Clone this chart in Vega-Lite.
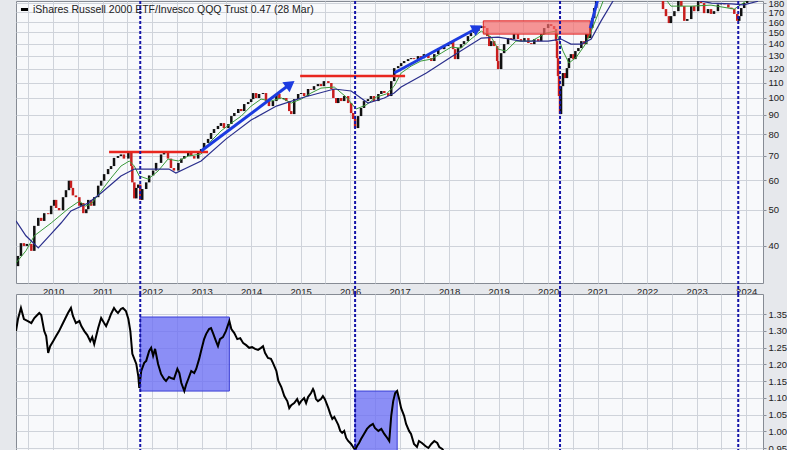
{
  "$schema": "https://vega.github.io/schema/vega-lite/v6.json",
  "background": "#e6e8ec",
  "padding": {"left": 15, "top": -3, "right": 0, "bottom": 0},
  "bounds": "flush",
  "spacing": 11,
  "config": {
    "view": {"fill": "#f8f9fb", "stroke": "#868b94", "strokeWidth": 1},
    "axis": {"labelFont": "Liberation Sans", "labelFontSize": 9.5, "labelColor": "#222222", "title": null, "gridColor": "#cfd3da", "gridWidth": 1, "domain": false, "tickColor": "#8a8f99"}
  },
  "datasets": {
    "price": [
      {"t":2009.25,"c":35.3},{"t":2009.29,"c":37.6},{"t":2009.35,"c":40.7},{"t":2009.41,"c":40.0},{"t":2009.47,"c":40.5},{"t":2009.56,"c":38.8},{"t":2009.62,"c":45.3},{"t":2009.70,"c":47.6},{"t":2009.76,"c":46.7},{"t":2009.82,"c":49.0},{"t":2009.90,"c":48.7},{"t":2009.96,"c":51.3},
      {"t":2010.02,"c":53.2},{"t":2010.06,"c":50.6},{"t":2010.12,"c":49.9},{"t":2010.20,"c":54.1},{"t":2010.26,"c":56.5},{"t":2010.32,"c":59.9},{"t":2010.36,"c":57.3},{"t":2010.40,"c":54.7},{"t":2010.46,"c":54.1},{"t":2010.53,"c":51.3},{"t":2010.57,"c":52.2},{"t":2010.61,"c":49.0},{"t":2010.67,"c":50.2},{"t":2010.71,"c":53.2},{"t":2010.77,"c":51.3},{"t":2010.83,"c":54.1},{"t":2010.91,"c":58.1},{"t":2010.97,"c":59.9},
      {"t":2011.03,"c":62.4},{"t":2011.11,"c":64.4},{"t":2011.17,"c":65.6},{"t":2011.23,"c":69.0},{"t":2011.31,"c":69.8},{"t":2011.37,"c":70.5},{"t":2011.43,"c":68.7},{"t":2011.52,"c":71.2},{"t":2011.58,"c":65.6},{"t":2011.60,"c":59.3},{"t":2011.64,"c":53.7},{"t":2011.68,"c":57.3},{"t":2011.72,"c":58.5},{"t":2011.76,"c":53.2},{"t":2011.80,"c":56.9},{"t":2011.88,"c":59.3},{"t":2011.94,"c":61.9},
      {"t":2012.02,"c":63.8},{"t":2012.08,"c":66.9},{"t":2012.18,"c":70.5},{"t":2012.24,"c":71.2},{"t":2012.32,"c":68.7},{"t":2012.38,"c":64.8},{"t":2012.44,"c":63.8},{"t":2012.53,"c":66.9},{"t":2012.59,"c":68.7},{"t":2012.65,"c":69.8},{"t":2012.73,"c":71.2},{"t":2012.79,"c":69.8},{"t":2012.85,"c":68.7},{"t":2012.93,"c":71.2},{"t":2012.99,"c":72.9},
      {"t":2013.05,"c":75.7},{"t":2013.13,"c":77.6},{"t":2013.19,"c":80.5},{"t":2013.25,"c":82.5},{"t":2013.33,"c":84.1},{"t":2013.39,"c":85.6},{"t":2013.45,"c":83.0},{"t":2013.54,"c":85.1},{"t":2013.60,"c":89.4},{"t":2013.66,"c":91.1},{"t":2013.74,"c":93.4},{"t":2013.80,"c":92.2},{"t":2013.86,"c":96.3},{"t":2013.94,"c":97.5},
      {"t":2014.00,"c":99.3},{"t":2014.04,"c":103.1},{"t":2014.10,"c":100.0},{"t":2014.16,"c":102.5},{"t":2014.24,"c":103.1},{"t":2014.30,"c":98.1},{"t":2014.36,"c":95.1},{"t":2014.44,"c":98.1},{"t":2014.51,"c":102.5},{"t":2014.57,"c":99.3},{"t":2014.65,"c":100.0},{"t":2014.71,"c":98.1},{"t":2014.77,"c":92.2},{"t":2014.81,"c":90.5},{"t":2014.87,"c":99.3},{"t":2014.95,"c":102.5},
      {"t":2015.01,"c":103.1},{"t":2015.07,"c":101.2},{"t":2015.15,"c":105.7},{"t":2015.21,"c":105.2},{"t":2015.27,"c":107.6},{"t":2015.35,"c":109.0},{"t":2015.41,"c":107.6},{"t":2015.47,"c":111.0},{"t":2015.56,"c":109.7},{"t":2015.62,"c":105.7},{"t":2015.66,"c":100.0},{"t":2015.72,"c":96.9},{"t":2015.76,"c":100.0},{"t":2015.82,"c":98.1},{"t":2015.88,"c":101.2},{"t":2015.96,"c":96.9},
      {"t":2016.02,"c":91.1},{"t":2016.06,"c":87.8},{"t":2016.10,"c":83.0},{"t":2016.16,"c":89.4},{"t":2016.22,"c":94.0},{"t":2016.28,"c":98.1},{"t":2016.36,"c":99.3},{"t":2016.42,"c":101.2},{"t":2016.48,"c":98.1},{"t":2016.57,"c":102.5},{"t":2016.63,"c":104.4},{"t":2016.69,"c":103.1},{"t":2016.77,"c":101.2},{"t":2016.83,"c":111.0},{"t":2016.89,"c":120.3},{"t":2016.97,"c":121.8},
      {"t":2017.03,"c":124.1},{"t":2017.09,"c":125.7},{"t":2017.17,"c":127.2},{"t":2017.23,"c":128.0},{"t":2017.29,"c":127.2},{"t":2017.37,"c":129.6},{"t":2017.43,"c":128.0},{"t":2017.49,"c":131.2},{"t":2017.58,"c":128.0},{"t":2017.64,"c":125.7},{"t":2017.70,"c":131.2},{"t":2017.78,"c":136.2},{"t":2017.84,"c":135.3},{"t":2017.90,"c":137.9},{"t":2017.98,"c":139.6},
      {"t":2018.04,"c":142.2},{"t":2018.08,"c":135.3},{"t":2018.12,"c":127.2},{"t":2018.18,"c":136.2},{"t":2018.24,"c":139.6},{"t":2018.30,"c":142.2},{"t":2018.38,"c":146.7},{"t":2018.44,"c":149.5},{"t":2018.51,"c":151.3},{"t":2018.59,"c":154.2},{"t":2018.65,"c":156.1},{"t":2018.71,"c":154.2},{"t":2018.77,"c":146.7},{"t":2018.81,"c":137.9},{"t":2018.85,"c":142.2},{"t":2018.91,"c":137.9},{"t":2018.97,"c":125.7},{"t":2018.99,"c":119.6},
      {"t":2019.05,"c":132.0},{"t":2019.11,"c":139.6},{"t":2019.19,"c":144.9},{"t":2019.25,"c":144.0},{"t":2019.31,"c":148.5},{"t":2019.39,"c":144.0},{"t":2019.45,"c":142.2},{"t":2019.52,"c":144.9},{"t":2019.60,"c":140.5},{"t":2019.66,"c":139.6},{"t":2019.72,"c":144.0},{"t":2019.80,"c":142.2},{"t":2019.86,"c":148.5},{"t":2019.92,"c":154.2},
      {"t":2020.00,"c":158.0},{"t":2020.06,"c":156.1},{"t":2020.12,"c":153.2},{"t":2020.16,"c":142.2},{"t":2020.18,"c":128.0},{"t":2020.20,"c":114.5},{"t":2020.22,"c":101.2},{"t":2020.24,"c":90.5},{"t":2020.26,"c":107.6},{"t":2020.30,"c":116.7},{"t":2020.34,"c":113.1},{"t":2020.38,"c":120.3},{"t":2020.42,"c":128.0},{"t":2020.46,"c":131.2},{"t":2020.51,"c":127.2},{"t":2020.55,"c":133.7},{"t":2020.61,"c":136.2},{"t":2020.67,"c":142.2},{"t":2020.73,"c":139.6},{"t":2020.77,"c":148.5},{"t":2020.81,"c":144.9},{"t":2020.85,"c":154.2},{"t":2020.89,"c":164.0},{"t":2020.93,"c":174.5},{"t":2020.97,"c":182.3},
      {"t":2021.05,"c":195},{"t":2021.15,"c":212},{"t":2021.25,"c":222},{"t":2021.35,"c":218},{"t":2021.45,"c":225},{"t":2021.55,"c":215},{"t":2021.65,"c":222},{"t":2021.75,"c":218},{"t":2021.85,"c":235},{"t":2021.95,"c":222},
      {"t":2022.02,"c":210},{"t":2022.10,"c":198},{"t":2022.18,"c":188},{"t":2022.28,"c":182.3},{"t":2022.32,"c":173.4},{"t":2022.38,"c":166.0},{"t":2022.44,"c":159.0},{"t":2022.48,"c":166.0},{"t":2022.55,"c":171.2},{"t":2022.63,"c":186},{"t":2022.69,"c":176.6},{"t":2022.75,"c":161.2},{"t":2022.81,"c":163.0},{"t":2022.89,"c":176.6},{"t":2022.95,"c":171.2},
      {"t":2023.03,"c":182.3},{"t":2023.09,"c":180.0},{"t":2023.15,"c":169.1},{"t":2023.23,"c":173.4},{"t":2023.29,"c":168.3},{"t":2023.35,"c":171.2},{"t":2023.43,"c":178.5},{"t":2023.49,"c":180.0},{"t":2023.56,"c":178.5},{"t":2023.64,"c":175.0},{"t":2023.70,"c":173.4},{"t":2023.76,"c":168.3},{"t":2023.82,"c":161.2},{"t":2023.86,"c":166.0},{"t":2023.90,"c":174.5},{"t":2023.96,"c":180.0},
      {"t":2024.02,"c":191},{"t":2024.10,"c":193},{"t":2024.20,"c":198},{"t":2024.24,"c":199}
    ],
    "ma50": [
      {"t":2009.25,"v":36.0},{"t":2009.45,"v":38.8},{"t":2009.62,"v":42.6},{"t":2009.96,"v":46.1},{"t":2010.30,"v":50.3},{"t":2010.53,"v":52.8},{"t":2010.65,"v":51.2},{"t":2010.77,"v":51.9},{"t":2010.97,"v":56.2},{"t":2011.17,"v":60.9},{"t":2011.37,"v":65.6},{"t":2011.54,"v":67.7},{"t":2011.64,"v":65.6},{"t":2011.74,"v":61.7},{"t":2011.92,"v":60.5},{"t":2012.12,"v":63.6},{"t":2012.32,"v":68.5},{"t":2012.53,"v":67.7},{"t":2012.73,"v":69.8},{"t":2012.99,"v":70.7},{"t":2013.19,"v":76.6},{"t":2013.39,"v":81.5},{"t":2013.60,"v":85.6},{"t":2013.80,"v":89.4},{"t":2014.00,"v":95.1},{"t":2014.20,"v":99.3},{"t":2014.40,"v":98.1},{"t":2014.61,"v":100.0},{"t":2014.81,"v":96.9},{"t":2015.01,"v":99.3},{"t":2015.21,"v":103.1},{"t":2015.41,"v":106.3},{"t":2015.68,"v":107.0},{"t":2015.92,"v":100.6},{"t":2016.12,"v":93.4},{"t":2016.32,"v":95.7},{"t":2016.53,"v":100.6},{"t":2016.73,"v":102.5},{"t":2016.89,"v":107.6},{"t":2017.03,"v":116.7},{"t":2017.23,"v":121.8},{"t":2017.43,"v":125.7},{"t":2017.64,"v":127.2},{"t":2017.84,"v":132.0},{"t":2018.04,"v":137.0},{"t":2018.24,"v":136.2},{"t":2018.44,"v":144.0},{"t":2018.65,"v":151.3},{"t":2018.85,"v":145.8},{"t":2018.99,"v":135.3},{"t":2019.15,"v":133.7},{"t":2019.35,"v":142.2},{"t":2019.66,"v":142.2},{"t":2019.96,"v":149.5},{"t":2020.16,"v":151.3},{"t":2020.30,"v":133.7},{"t":2020.42,"v":124.1},{"t":2020.57,"v":128.8},{"t":2020.77,"v":140.5},{"t":2020.87,"v":151.3},{"t":2021.03,"v":171.2},{"t":2021.19,"v":193.8},{"t":2021.5,"v":215},{"t":2021.9,"v":220},{"t":2022.08,"v":206},{"t":2022.3,"v":190},{"t":2022.48,"v":176.6},{"t":2022.89,"v":176.6},{"t":2023.29,"v":177.7},{"t":2023.76,"v":173.4},{"t":2024.00,"v":182.3},{"t":2024.24,"v":199}
    ],
    "ma200": [
      {"t":2009.25,"v":46.7},{"t":2009.45,"v":42.6},{"t":2009.70,"v":39.5},{"t":2009.96,"v":43.1},{"t":2010.16,"v":46.1},{"t":2010.36,"v":49.7},{"t":2010.71,"v":52.2},{"t":2010.97,"v":55.5},{"t":2011.37,"v":61.7},{"t":2011.64,"v":64.4},{"t":2011.78,"v":64.4},{"t":2012.34,"v":64.4},{"t":2012.48,"v":62.8},{"t":2012.99,"v":67.7},{"t":2013.49,"v":77.5},{"t":2014.00,"v":87.2},{"t":2014.51,"v":95.1},{"t":2015.01,"v":100.0},{"t":2015.68,"v":105.7},{"t":2016.02,"v":104.4},{"t":2016.36,"v":96.9},{"t":2016.69,"v":100.0},{"t":2016.89,"v":103.1},{"t":2017.03,"v":107.0},{"t":2017.54,"v":116.7},{"t":2018.04,"v":128.8},{"t":2018.65,"v":144.9},{"t":2018.99,"v":145.8},{"t":2019.45,"v":142.2},{"t":2020.00,"v":142.2},{"t":2020.26,"v":144.0},{"t":2020.46,"v":139.6},{"t":2020.67,"v":139.6},{"t":2020.87,"v":144.0},{"t":2021.07,"v":161.2},{"t":2021.31,"v":182.3},{"t":2021.8,"v":210},{"t":2022.2,"v":210},{"t":2022.5,"v":195},{"t":2022.9,"v":184},{"t":2023.3,"v":180},{"t":2023.7,"v":179},{"t":2023.95,"v":178},{"t":2024.24,"v":182}
    ],
    "ratio": [
      {"t":2009.25,"r":1.299},{"t":2009.29,"r":1.335},{"t":2009.35,"r":1.368},{"t":2009.41,"r":1.335},{"t":2009.49,"r":1.329},{"t":2009.56,"r":1.323},{"t":2009.62,"r":1.338},{"t":2009.66,"r":1.344},{"t":2009.72,"r":1.353},{"t":2009.76,"r":1.347},{"t":2009.82,"r":1.299},{"t":2009.86,"r":1.284},{"t":2009.90,"r":1.234},{"t":2009.94,"r":1.254},
      {"t":2010.00,"r":1.269},{"t":2010.06,"r":1.284},{"t":2010.12,"r":1.299},{"t":2010.18,"r":1.317},{"t":2010.24,"r":1.335},{"t":2010.30,"r":1.353},{"t":2010.36,"r":1.368},{"t":2010.40,"r":1.344},{"t":2010.46,"r":1.323},{"t":2010.53,"r":1.329},{"t":2010.57,"r":1.314},{"t":2010.63,"r":1.299},{"t":2010.69,"r":1.287},{"t":2010.75,"r":1.269},{"t":2010.79,"r":1.281},{"t":2010.83,"r":1.260},{"t":2010.87,"r":1.284},{"t":2010.91,"r":1.308},{"t":2010.97,"r":1.338},
      {"t":2011.03,"r":1.323},{"t":2011.07,"r":1.314},{"t":2011.13,"r":1.335},{"t":2011.17,"r":1.350},{"t":2011.23,"r":1.368},{"t":2011.27,"r":1.359},{"t":2011.31,"r":1.353},{"t":2011.37,"r":1.365},{"t":2011.41,"r":1.368},{"t":2011.47,"r":1.359},{"t":2011.52,"r":1.335},{"t":2011.56,"r":1.299},{"t":2011.60,"r":1.231},{"t":2011.64,"r":1.216},{"t":2011.68,"r":1.201},{"t":2011.72,"r":1.165},{"t":2011.74,"r":1.129},{"t":2011.78,"r":1.180},{"t":2011.84,"r":1.204},{"t":2011.88,"r":1.210},{"t":2011.94,"r":1.240},{"t":2011.98,"r":1.249},
      {"t":2012.02,"r":1.225},{"t":2012.06,"r":1.246},{"t":2012.12,"r":1.201},{"t":2012.18,"r":1.171},{"t":2012.24,"r":1.156},{"t":2012.28,"r":1.150},{"t":2012.34,"r":1.162},{"t":2012.38,"r":1.159},{"t":2012.44,"r":1.156},{"t":2012.51,"r":1.186},{"t":2012.55,"r":1.174},{"t":2012.59,"r":1.144},{"t":2012.65,"r":1.120},{"t":2012.69,"r":1.141},{"t":2012.73,"r":1.156},{"t":2012.79,"r":1.180},{"t":2012.85,"r":1.174},{"t":2012.89,"r":1.186},{"t":2012.95,"r":1.216},{"t":2012.99,"r":1.240},
      {"t":2013.05,"r":1.275},{"t":2013.09,"r":1.290},{"t":2013.15,"r":1.305},{"t":2013.19,"r":1.308},{"t":2013.23,"r":1.293},{"t":2013.29,"r":1.269},{"t":2013.33,"r":1.254},{"t":2013.37,"r":1.275},{"t":2013.43,"r":1.281},{"t":2013.49,"r":1.299},{"t":2013.56,"r":1.329},{"t":2013.60,"r":1.305},{"t":2013.66,"r":1.293},{"t":2013.72,"r":1.275},{"t":2013.78,"r":1.278},{"t":2013.84,"r":1.263},{"t":2013.90,"r":1.257},{"t":2013.96,"r":1.249},
      {"t":2014.02,"r":1.251},{"t":2014.08,"r":1.246},{"t":2014.14,"r":1.243},{"t":2014.20,"r":1.249},{"t":2014.24,"r":1.254},{"t":2014.28,"r":1.234},{"t":2014.34,"r":1.219},{"t":2014.40,"r":1.216},{"t":2014.44,"r":1.204},{"t":2014.51,"r":1.180},{"t":2014.55,"r":1.150},{"t":2014.61,"r":1.132},{"t":2014.67,"r":1.105},{"t":2014.73,"r":1.090},{"t":2014.77,"r":1.069},{"t":2014.81,"r":1.078},{"t":2014.87,"r":1.084},{"t":2014.93,"r":1.096},{"t":2014.97,"r":1.081},
      {"t":2015.01,"r":1.090},{"t":2015.07,"r":1.099},{"t":2015.11,"r":1.084},{"t":2015.15,"r":1.102},{"t":2015.21,"r":1.114},{"t":2015.25,"r":1.126},{"t":2015.27,"r":1.120},{"t":2015.31,"r":1.096},{"t":2015.35,"r":1.090},{"t":2015.41,"r":1.096},{"t":2015.45,"r":1.105},{"t":2015.49,"r":1.096},{"t":2015.56,"r":1.069},{"t":2015.60,"r":1.051},{"t":2015.64,"r":1.037},{"t":2015.68,"r":1.043},{"t":2015.72,"r":1.031},{"t":2015.76,"r":1.019},{"t":2015.80,"r":1.001},{"t":2015.84,"r":0.995},{"t":2015.88,"r":1.001},{"t":2015.92,"r":0.980},{"t":2015.96,"r":0.971},
      {"t":2016.02,"r":0.962},{"t":2016.06,"r":0.953},{"t":2016.10,"r":0.944},{"t":2016.14,"r":0.956},{"t":2016.18,"r":0.965},{"t":2016.22,"r":0.977},{"t":2016.28,"r":0.992},{"t":2016.34,"r":1.007},{"t":2016.40,"r":1.016},{"t":2016.46,"r":1.022},{"t":2016.50,"r":1.010},{"t":2016.57,"r":1.001},{"t":2016.63,"r":1.007},{"t":2016.69,"r":0.992},{"t":2016.75,"r":0.980},{"t":2016.79,"r":0.971},{"t":2016.83,"r":1.046},{"t":2016.87,"r":1.090},{"t":2016.91,"r":1.114},{"t":2016.95,"r":1.120},{"t":2016.99,"r":1.096},
      {"t":2017.03,"r":1.069},{"t":2017.09,"r":1.046},{"t":2017.13,"r":1.022},{"t":2017.19,"r":1.001},{"t":2017.23,"r":0.992},{"t":2017.29,"r":0.962},{"t":2017.35,"r":0.953},{"t":2017.39,"r":0.971},{"t":2017.45,"r":0.965},{"t":2017.52,"r":0.956},{"t":2017.58,"r":0.950},{"t":2017.64,"r":0.962},{"t":2017.70,"r":0.971},{"t":2017.76,"r":0.965},{"t":2017.80,"r":0.953},{"t":2017.86,"r":0.947},{"t":2017.92,"r":0.935},{"t":2017.98,"r":0.917},
      {"t":2018.5,"r":0.90},{"t":2019.0,"r":0.78},{"t":2019.5,"r":0.72},{"t":2020.0,"r":0.66},{"t":2020.5,"r":0.55},{"t":2021.0,"r":0.58},{"t":2021.5,"r":0.60},{"t":2022.0,"r":0.58},{"t":2022.5,"r":0.58},{"t":2023.0,"r":0.55},{"t":2023.5,"r":0.52},{"t":2024.0,"r":0.50},{"t":2024.24,"r":0.47}
    ],
    "events": [{"t":2011.76},{"t":2016.10},{"t":2020.24},{"t":2023.84}]
  },
  "vconcat": [
    {
      "width": 747,
      "height": 282,
      "resolve": {"axis": {"x": "independent", "y": "independent"}},
      "layer": [
        {
          "data": {"name": "price"},
          "transform": [
            {"window": [{"op": "lag", "field": "c", "as": "o"}], "sort": [{"field": "t", "order": "ascending"}]},
            {"filter": "datum.o != null"}
          ],
          "mark": {"type": "rule", "strokeWidth": 2.5, "clip": true},
          "encoding": {
            "x": {"field": "t", "type": "quantitative",
              "scale": {"domain": [2009.25, 2024.34], "nice": false, "zero": false},
              "axis": {"values": [2009.5,2010,2010.5,2011,2011.5,2012,2012.5,2013,2013.5,2014,2014.5,2015,2015.5,2016,2016.5,2017,2017.5,2018,2018.5,2019,2019.5,2020,2020.5,2021,2021.5,2022,2022.5,2023,2023.5,2024],
                "labelExpr": "datum.value % 1 === 0 ? format(datum.value, 'd') : ''", "ticks": false, "grid": true, "labelPadding": 3, "labelFlush": false, "labelOverlap": false}},
            "y": {"field": "o", "type": "quantitative",
              "scale": {"type": "log", "domain": [31.8, 182.3], "nice": false},
              "axis": {"orient": "right", "values": [40,50,60,70,80,90,100,110,120,130,140,150,160,170,180], "format": "d", "tickSize": 3, "labelPadding": 2, "grid": true, "labelFlush": false, "labelOverlap": false}},
            "y2": {"field": "c"},
            "color": {"condition": {"test": "datum.c < datum.o", "value": "#c81e1e"}, "value": "#111111"}
          }
        },
        {
          "data": {"name": "ma50"},
          "mark": {"type": "line", "color": "#3a9a3a", "strokeWidth": 1, "clip": true},
          "encoding": {"x": {"field": "t", "type": "quantitative", "axis": null}, "y": {"field": "v", "type": "quantitative", "axis": null}}
        },
        {
          "data": {"name": "ma200"},
          "mark": {"type": "line", "color": "#2a2e8c", "strokeWidth": 1.2, "clip": true},
          "encoding": {"x": {"field": "t", "type": "quantitative", "axis": null}, "y": {"field": "v", "type": "quantitative", "axis": null}}
        },
        {
          "data": {"values": [{"t1": 2018.69, "t2": 2020.85, "v1": 148.5, "v2": 161.2}]},
          "mark": {"type": "rect", "fill": "#f46a6a", "fillOpacity": 0.7, "stroke": "#e22222", "strokeWidth": 1, "clip": true},
          "encoding": {"x": {"field": "t1", "type": "quantitative", "axis": null}, "x2": {"field": "t2"}, "y": {"field": "v1", "type": "quantitative", "axis": null}, "y2": {"field": "v2"}}
        },
        {
          "data": {"values": [{"t1": 2011.13, "t2": 2013.13, "v": 71.6}, {"t1": 2014.99, "t2": 2017.11, "v": 114.5}]},
          "mark": {"type": "rule", "color": "#e8261e", "strokeWidth": 2.5, "clip": true},
          "encoding": {"x": {"field": "t1", "type": "quantitative", "axis": null}, "x2": {"field": "t2"}, "y": {"field": "v", "type": "quantitative", "axis": null}}
        },
        {
          "data": {"values": [
            {"arrow": "a1", "t": 2012.99, "v": 72.0}, {"arrow": "a1", "t": 2014.79, "v": 109.0},
            {"arrow": "a2", "t": 2016.89, "v": 116.7}, {"arrow": "a2", "t": 2018.57, "v": 154.2},
            {"arrow": "a3", "t": 2020.85, "v": 154.2}, {"arrow": "a3", "t": 2021.03, "v": 190}
          ]},
          "mark": {"type": "line", "color": "#1c3be0", "strokeWidth": 3, "clip": true},
          "encoding": {"x": {"field": "t", "type": "quantitative", "axis": null}, "y": {"field": "v", "type": "quantitative", "axis": null}, "detail": {"field": "arrow"}}
        },
        {
          "data": {"values": [{"t": 2014.79, "v": 109.0}]},
          "mark": {"type": "point", "shape": "triangle-right", "filled": true, "color": "#1c3be0", "opacity": 1, "size": 150, "angle": 324},
          "encoding": {"x": {"field": "t", "type": "quantitative", "axis": null}, "y": {"field": "v", "type": "quantitative", "axis": null}}
        },
        {
          "data": {"values": [{"t": 2018.57, "v": 154.2}]},
          "mark": {"type": "point", "shape": "triangle-right", "filled": true, "color": "#1c3be0", "opacity": 1, "size": 150, "angle": 331},
          "encoding": {"x": {"field": "t", "type": "quantitative", "axis": null}, "y": {"field": "v", "type": "quantitative", "axis": null}}
        },
        {
          "data": {"name": "events"},
          "mark": {"type": "rule", "color": "#1414a8", "strokeWidth": 2, "strokeDash": [3, 2], "clip": false},
          "encoding": {"x": {"field": "t", "type": "quantitative", "axis": null}, "y": {"datum": 182.3, "type": "quantitative", "axis": null}, "y2": {"datum": 29.7}}
        }
      ]
    },
    {
      "width": 747,
      "height": 200,
      "resolve": {"axis": {"x": "independent", "y": "independent"}},
      "layer": [
        {
          "data": {"values": [{"t1": 2011.76, "t2": 2013.56, "v1": 1.120, "v2": 1.341}, {"t1": 2016.10, "t2": 2016.95, "v1": 0.85, "v2": 1.120}]},
          "mark": {"type": "rect", "fill": "#6b6ff5", "fillOpacity": 0.78, "stroke": "#3a3fd6", "strokeWidth": 1, "clip": true},
          "encoding": {
            "x": {"field": "t1", "type": "quantitative",
              "scale": {"domain": [2009.25, 2024.34], "nice": false, "zero": false},
              "axis": {"values": [2009.5,2010,2010.5,2011,2011.5,2012,2012.5,2013,2013.5,2014,2014.5,2015,2015.5,2016,2016.5,2017,2017.5,2018,2018.5,2019,2019.5,2020,2020.5,2021,2021.5,2022,2022.5,2023,2023.5,2024], "labels": false, "ticks": false, "grid": true}},
            "x2": {"field": "t2"},
            "y": {"field": "v1", "type": "quantitative",
              "scale": {"domain": [0.8127, 1.4097], "nice": false, "zero": false},
              "axis": {"orient": "right", "values": [0.85,0.9,0.95,1.0,1.05,1.1,1.15,1.2,1.25,1.3,1.35], "format": ".2f", "tickSize": 3, "labelPadding": 2, "grid": true, "labelFlush": false, "labelOverlap": false}},
            "y2": {"field": "v2"}
          }
        },
        {
          "data": {"name": "ratio"},
          "mark": {"type": "line", "strokeWidth": 2, "clip": true},
          "encoding": {
            "x": {"field": "t", "type": "quantitative", "axis": null},
            "y": {"field": "r", "type": "quantitative", "axis": null},
            "color": {"datum": "iShares Russell 2000 ETF/Invesco QQQ Trust 0.47 (28 Mar)", "type": "nominal",
              "scale": {"range": ["#000000"]},
              "legend": {"orient": "top-left", "title": null, "symbolType": "stroke", "symbolStrokeWidth": 3, "symbolSize": 50, "labelFont": "Liberation Sans", "labelFontSize": 10.5, "labelColor": "#222222", "labelLimit": 0, "offset": 1, "padding": 2, "labelOffset": 3}}
          }
        },
        {
          "data": {"name": "events"},
          "mark": {"type": "rule", "color": "#1414a8", "strokeWidth": 2, "strokeDash": [3, 2]},
          "encoding": {"x": {"field": "t", "type": "quantitative", "axis": null}}
        }
      ]
    }
  ]
}
